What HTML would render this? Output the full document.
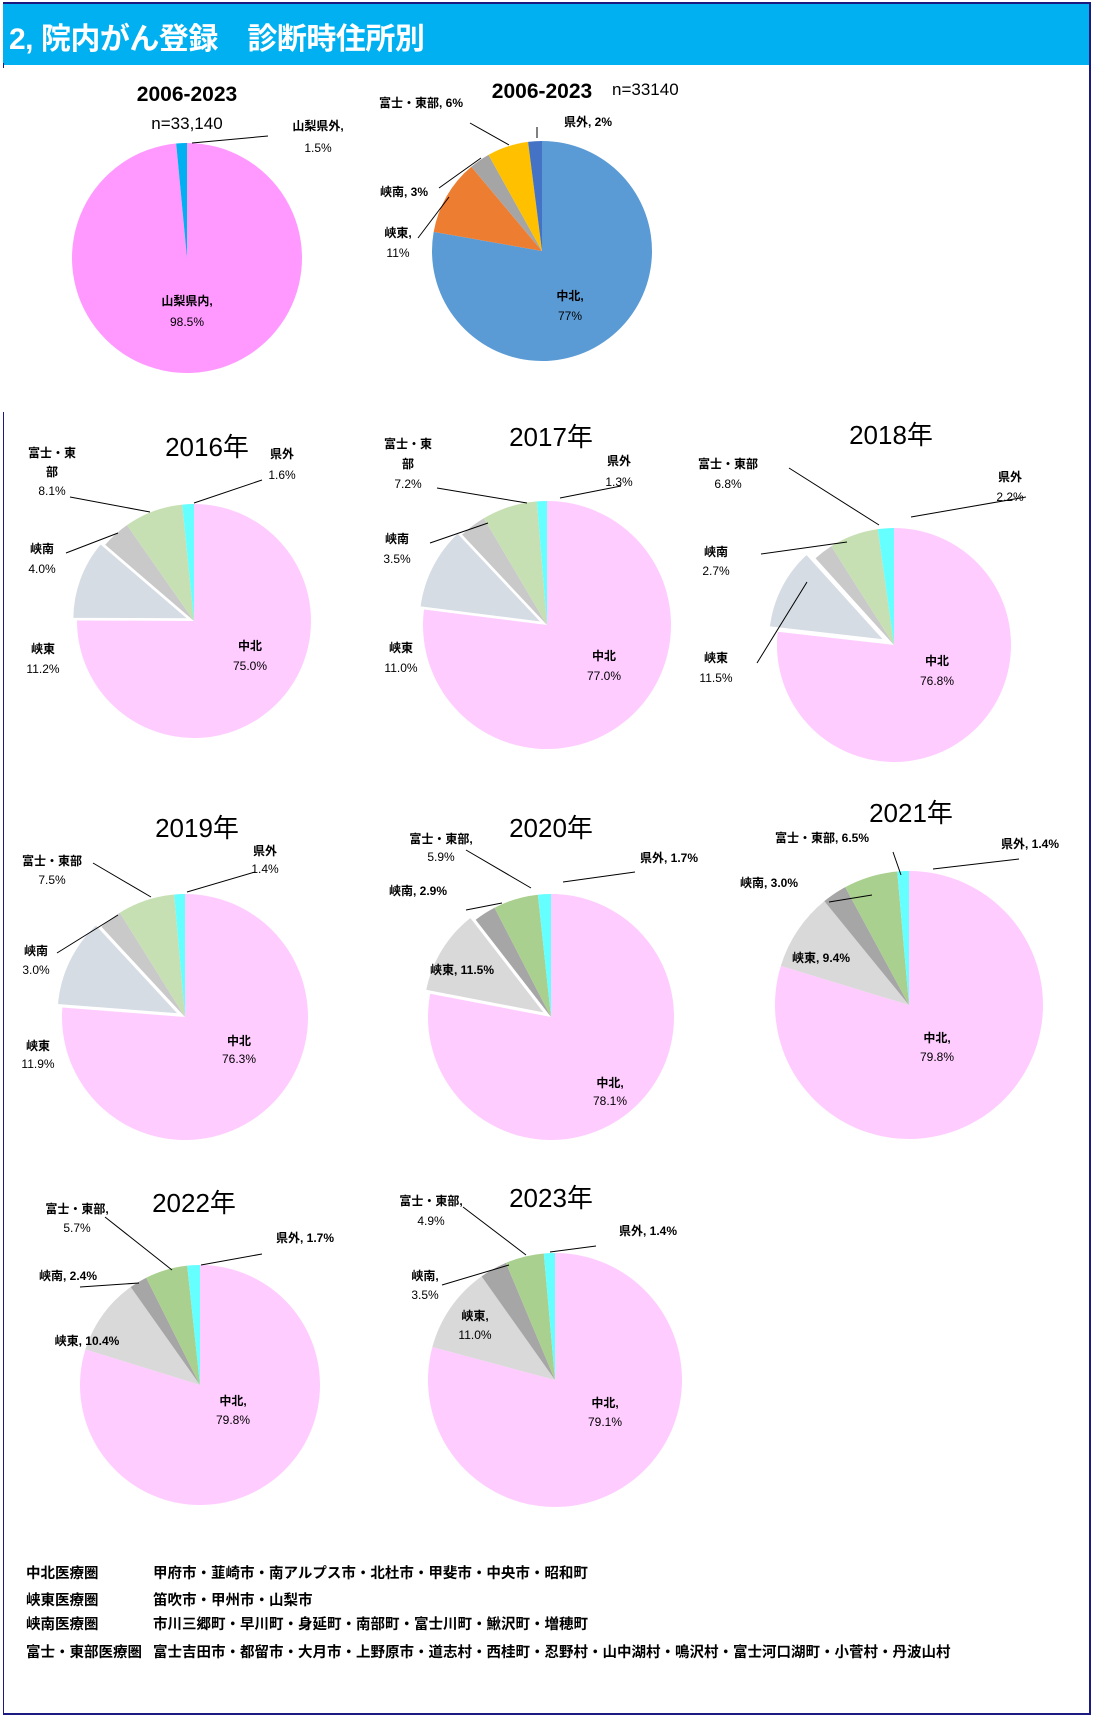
<!DOCTYPE html>
<html><head><meta charset="utf-8">
<style>
html,body{margin:0;padding:0;background:#fff;}
body{width:1093px;height:1716px;position:relative;overflow:hidden;font-family:"Liberation Sans","Noto Sans CJK JP",sans-serif;}
#hdr{position:absolute;left:3px;top:2px;width:1087px;height:61px;background:#00b0f0;border-top:2px solid #1a1a80;}
#hdr span{position:absolute;left:6px;top:10px;color:#fff;font-weight:bold;font-size:30px;letter-spacing:-0.5px;}
#rb{position:absolute;left:1089px;top:2px;width:2px;height:1713px;background:#1a1a80;}
#bb{position:absolute;left:3px;top:1713px;width:1088px;height:2px;background:#1a1a80;}
#lb1{position:absolute;left:3px;top:63px;width:1px;height:5px;background:#1a1a80;}
#lb2{position:absolute;left:3px;top:412px;width:1px;height:1303px;background:#1a1a80;}
svg{position:absolute;left:0;top:0;}
svg text{font-family:"Liberation Sans","Noto Sans CJK JP",sans-serif;fill:#000;}
.l{font-size:12px;font-weight:bold;}
.p{font-size:12px;}
.t{font-size:26px;}
.tb{font-size:21px;font-weight:bold;}
.n{font-size:17px;}
.f{position:absolute;font-size:14.5px;font-weight:bold;font-family:"Liberation Sans","Noto Sans CJK JP",sans-serif;white-space:nowrap;}
</style></head><body>
<div id="hdr"><span>2, 院内がん登録　診断時住所別</span></div>
<div id="rb"></div><div id="bb"></div><div id="lb1"></div><div id="lb2"></div>
<svg id="s" width="1093" height="1716" viewBox="0 0 1093 1716">
<g id="pies"></g>
<g stroke="#000" stroke-width="1" fill="none">
<path d="M268 136L192 143"/>
<path d="M470 123L509 145M439 188L481 158M418 238L449 197M537 127L537 138"/>
<path d="M70 497L150 512M262 480L194 503M66 553L118 533"/>
<path d="M437 488L527 503M621 486L560 498M430 543L488 523"/>
<path d="M789 468L879 525M1026 497L911 517M761 554L847 542M757 663L807 582"/>
<path d="M93 863L151 897M255 872L187 892M57 953L118 915"/>
<path d="M466 850L531 888M635 872L563 882M466 910L502 903"/>
<path d="M893 852L901 875M1019 859L933 869M829 902L872 895"/>
<path d="M105 1217L172 1270M262 1254L201 1265M80 1287L139 1283"/>
<path d="M463 1207L526 1255M596 1246L550 1252M442 1285L509 1265"/>
</g>
<!-- top charts -->
<text class="tb" x="187" y="101" text-anchor="middle">2006-2023</text>
<text class="n" x="187" y="129" text-anchor="middle">n=33,140</text>
<text class="l" x="318" y="130" text-anchor="middle">山梨県外,</text>
<text class="p" x="318" y="152" text-anchor="middle">1.5%</text>
<text class="l" x="187" y="305" text-anchor="middle">山梨県内,</text>
<text class="p" x="187" y="326" text-anchor="middle">98.5%</text>
<text class="tb" x="542" y="98" text-anchor="middle">2006-2023</text>
<text class="n" x="612" y="95">n=33140</text>
<text class="l" x="421" y="107" text-anchor="middle">富士・東部, 6%</text>
<text class="l" x="588" y="126" text-anchor="middle">県外, 2%</text>
<text class="l" x="404" y="196" text-anchor="middle">峡南, 3%</text>
<text class="l" x="398" y="237" text-anchor="middle">峡東,</text>
<text class="p" x="398" y="257" text-anchor="middle">11%</text>
<text class="l" x="570" y="300" text-anchor="middle">中北,</text>
<text class="p" x="570" y="320" text-anchor="middle">77%</text>
<!-- 2016 -->
<text class="t" x="207" y="456" text-anchor="middle">2016年</text>
<text class="l" x="52" y="457" text-anchor="middle">富士・東</text>
<text class="l" x="52" y="476" text-anchor="middle">部</text>
<text class="p" x="52" y="495" text-anchor="middle">8.1%</text>
<text class="l" x="282" y="458" text-anchor="middle">県外</text>
<text class="p" x="282" y="479" text-anchor="middle">1.6%</text>
<text class="l" x="42" y="553" text-anchor="middle">峡南</text>
<text class="p" x="42" y="573" text-anchor="middle">4.0%</text>
<text class="l" x="43" y="653" text-anchor="middle">峡東</text>
<text class="p" x="43" y="673" text-anchor="middle">11.2%</text>
<text class="l" x="250" y="650" text-anchor="middle">中北</text>
<text class="p" x="250" y="670" text-anchor="middle">75.0%</text>
<!-- 2017 -->
<text class="t" x="551" y="446" text-anchor="middle">2017年</text>
<text class="l" x="408" y="448" text-anchor="middle">富士・東</text>
<text class="l" x="408" y="468" text-anchor="middle">部</text>
<text class="p" x="408" y="488" text-anchor="middle">7.2%</text>
<text class="l" x="619" y="465" text-anchor="middle">県外</text>
<text class="p" x="619" y="486" text-anchor="middle">1.3%</text>
<text class="l" x="397" y="543" text-anchor="middle">峡南</text>
<text class="p" x="397" y="563" text-anchor="middle">3.5%</text>
<text class="l" x="401" y="652" text-anchor="middle">峡東</text>
<text class="p" x="401" y="672" text-anchor="middle">11.0%</text>
<text class="l" x="604" y="660" text-anchor="middle">中北</text>
<text class="p" x="604" y="680" text-anchor="middle">77.0%</text>
<!-- 2018 -->
<text class="t" x="891" y="444" text-anchor="middle">2018年</text>
<text class="l" x="728" y="468" text-anchor="middle">富士・東部</text>
<text class="p" x="728" y="488" text-anchor="middle">6.8%</text>
<text class="l" x="1010" y="481" text-anchor="middle">県外</text>
<text class="p" x="1010" y="501" text-anchor="middle">2.2%</text>
<text class="l" x="716" y="556" text-anchor="middle">峡南</text>
<text class="p" x="716" y="575" text-anchor="middle">2.7%</text>
<text class="l" x="716" y="662" text-anchor="middle">峡東</text>
<text class="p" x="716" y="682" text-anchor="middle">11.5%</text>
<text class="l" x="937" y="665" text-anchor="middle">中北</text>
<text class="p" x="937" y="685" text-anchor="middle">76.8%</text>
<!-- 2019 -->
<text class="t" x="197" y="837" text-anchor="middle">2019年</text>
<text class="l" x="52" y="865" text-anchor="middle">富士・東部</text>
<text class="p" x="52" y="884" text-anchor="middle">7.5%</text>
<text class="l" x="265" y="855" text-anchor="middle">県外</text>
<text class="p" x="265" y="873" text-anchor="middle">1.4%</text>
<text class="l" x="36" y="955" text-anchor="middle">峡南</text>
<text class="p" x="36" y="974" text-anchor="middle">3.0%</text>
<text class="l" x="38" y="1050" text-anchor="middle">峡東</text>
<text class="p" x="38" y="1068" text-anchor="middle">11.9%</text>
<text class="l" x="239" y="1045" text-anchor="middle">中北</text>
<text class="p" x="239" y="1063" text-anchor="middle">76.3%</text>
<!-- 2020 -->
<text class="t" x="551" y="837" text-anchor="middle">2020年</text>
<text class="l" x="441" y="843" text-anchor="middle">富士・東部,</text>
<text class="p" x="441" y="861" text-anchor="middle">5.9%</text>
<text class="l" x="669" y="862" text-anchor="middle">県外, 1.7%</text>
<text class="l" x="418" y="895" text-anchor="middle">峡南, 2.9%</text>
<text class="l" x="462" y="974" text-anchor="middle">峡東, 11.5%</text>
<text class="l" x="610" y="1087" text-anchor="middle">中北,</text>
<text class="p" x="610" y="1105" text-anchor="middle">78.1%</text>
<!-- 2021 -->
<text class="t" x="911" y="822" text-anchor="middle">2021年</text>
<text class="l" x="822" y="842" text-anchor="middle">富士・東部, 6.5%</text>
<text class="l" x="1030" y="848" text-anchor="middle">県外, 1.4%</text>
<text class="l" x="769" y="887" text-anchor="middle">峡南, 3.0%</text>
<text class="l" x="821" y="962" text-anchor="middle">峡東, 9.4%</text>
<text class="l" x="937" y="1042" text-anchor="middle">中北,</text>
<text class="p" x="937" y="1061" text-anchor="middle">79.8%</text>
<!-- 2022 -->
<text class="t" x="194" y="1212" text-anchor="middle">2022年</text>
<text class="l" x="77" y="1213" text-anchor="middle">富士・東部,</text>
<text class="p" x="77" y="1232" text-anchor="middle">5.7%</text>
<text class="l" x="305" y="1242" text-anchor="middle">県外, 1.7%</text>
<text class="l" x="68" y="1280" text-anchor="middle">峡南, 2.4%</text>
<text class="l" x="87" y="1345" text-anchor="middle">峡東, 10.4%</text>
<text class="l" x="233" y="1405" text-anchor="middle">中北,</text>
<text class="p" x="233" y="1424" text-anchor="middle">79.8%</text>
<!-- 2023 -->
<text class="t" x="551" y="1207" text-anchor="middle">2023年</text>
<text class="l" x="431" y="1205" text-anchor="middle">富士・東部,</text>
<text class="p" x="431" y="1225" text-anchor="middle">4.9%</text>
<text class="l" x="648" y="1235" text-anchor="middle">県外, 1.4%</text>
<text class="l" x="425" y="1280" text-anchor="middle">峡南,</text>
<text class="p" x="425" y="1299" text-anchor="middle">3.5%</text>
<text class="l" x="475" y="1320" text-anchor="middle">峡東,</text>
<text class="p" x="475" y="1339" text-anchor="middle">11.0%</text>
<text class="l" x="605" y="1407" text-anchor="middle">中北,</text>
<text class="p" x="605" y="1426" text-anchor="middle">79.1%</text>
</svg>
<div class="f" style="left:26px;top:1562px">中北医療圏</div>
<div class="f" style="left:153px;top:1562px">甲府市・韮崎市・南アルプス市・北杜市・甲斐市・中央市・昭和町</div>
<div class="f" style="left:26px;top:1589px">峡東医療圏</div>
<div class="f" style="left:153px;top:1589px">笛吹市・甲州市・山梨市</div>
<div class="f" style="left:26px;top:1613px">峡南医療圏</div>
<div class="f" style="left:153px;top:1613px">市川三郷町・早川町・身延町・南部町・富士川町・鰍沢町・増穂町</div>
<div class="f" style="left:26px;top:1641px">富士・東部医療圏</div>
<div class="f" style="left:153px;top:1641px">富士吉田市・都留市・大月市・上野原市・道志村・西桂町・忍野村・山中湖村・鳴沢村・富士河口湖町・小菅村・丹波山村</div>
<script>
(function(){
var g=document.getElementById('pies'),NS='http://www.w3.org/2000/svg';
function pie(cx,cy,r,vals,cols,ex,ed){
 var tot=vals.reduce(function(a,b){return a+b},0),a0=-Math.PI/2;
 vals.forEach(function(v,i){
  var a1=a0+v/tot*2*Math.PI,dx=0,dy=0;
  if(i===ex){var m=(a0+a1)/2;dx=Math.cos(m)*ed;dy=Math.sin(m)*ed;}
  var x=cx+dx,y=cy+dy,large=(a1-a0)>Math.PI?1:0;
  var d='M'+x+' '+y+'L'+(x+r*Math.cos(a0))+' '+(y+r*Math.sin(a0))+'A'+r+' '+r+' 0 '+large+' 1 '+(x+r*Math.cos(a1))+' '+(y+r*Math.sin(a1))+'Z';
  var p=document.createElementNS(NS,'path');p.setAttribute('d',d);p.setAttribute('fill',cols[i]);
  if(i===ex){p.setAttribute('stroke','#fff');p.setAttribute('stroke-width','2');}
  g.appendChild(p);a0=a1;
 });
}
var A=['#ffccff','#d6dce4','#c9c9c9','#c6e0b4','#66ffff'],B=['#ffccff','#d9d9d9','#a6a6a6','#a9d08e','#66ffff'];
pie(187,258,115,[98.5,1.5],['#ff99ff','#00b0f0'],-1,0);
pie(542,251,110,[77,11,3,6,2],['#5b9bd5','#ed7d31','#a5a5a5','#ffc000','#4472c4'],-1,0);
pie(194,621,117,[75.0,11.2,4.0,8.1,1.6],A,1,5);
pie(547,625,124,[77.0,11.0,3.5,7.2,1.3],A,1,5);
pie(894,645,117,[76.8,11.5,2.7,6.8,2.2],A,1,10);
pie(185,1017,123,[76.3,11.9,3.0,7.5,1.4],A,1,6);
pie(551,1017,123,[78.1,11.5,2.9,5.9,1.7],B,1,6);
pie(909,1005,134,[79.8,9.4,3.0,6.5,1.4],B,-1,0);
pie(200,1385,120,[79.8,10.4,2.4,5.7,1.7],B,-1,0);
pie(555,1380,127,[79.1,11.0,3.5,4.9,1.4],B,-1,0);
})();
</script>
</body></html>
